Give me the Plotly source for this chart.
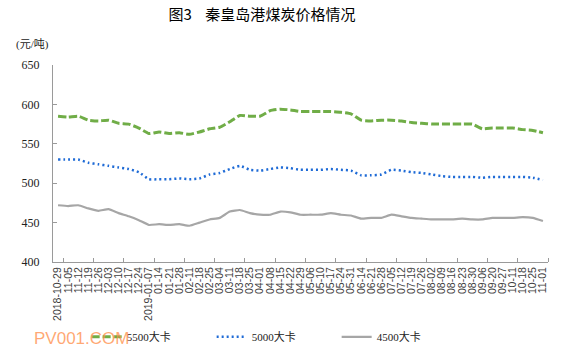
import plotly.graph_objects as go

dates = ["2018-10-29", "11-05", "11-12", "11-19", "11-26", "12-03", "12-10", "12-17", "12-24",
         "2019-01-07", "01-14", "01-21", "01-28", "02-11", "02-18", "02-25", "03-04", "03-11",
         "03-18", "03-25", "04-01", "04-08", "04-15", "04-22", "04-29", "05-06", "05-10",
         "05-17", "05-24", "05-31", "06-14", "06-21", "06-28", "07-05", "07-12", "07-19",
         "07-26", "08-02", "08-09", "08-16", "08-23", "08-30", "09-06", "09-20", "09-27",
         "10-11", "10-18", "10-25", "11-01"]

coal_5500 = [585, 584, 585, 580, 579, 580, 576, 575, 570, 563, 565, 563, 564, 562, 565, 569,
             571, 578, 586, 585, 585, 592, 594, 593, 591, 591, 591, 591, 590, 588, 580, 579,
             580, 580, 579, 577, 576, 575, 575, 575, 575, 575, 569, 570, 570, 570, 568, 567, 564]

coal_5000 = [530, 530, 530, 526, 524, 522, 520, 518, 514, 505, 505, 505, 506, 505, 506, 511,
             513, 518, 522, 517, 516, 518, 520, 519, 517, 517, 517, 518, 517, 516, 510, 510,
             511, 517, 516, 514, 513, 511, 509, 508, 508, 508, 507, 508, 508, 508, 508, 507, 504]

coal_4500 = [472, 471, 472, 468, 465, 467, 462, 458, 453, 447, 448, 447, 448, 446, 450, 454,
             456, 464, 466, 462, 460, 460, 464, 463, 460, 460, 460, 462, 460, 459, 455, 456,
             456, 460, 458, 456, 455, 454, 454, 454, 455, 454, 454, 456, 456, 456, 457, 456, 452]

series_names = ["5500大卡", "5000大卡", "4500大卡"]
x = list(range(len(dates)))

fig = go.Figure()
fig.add_trace(go.Scatter(x=x, y=coal_5500, name=series_names[0], mode="lines",
                         line=dict(color="#70AD47", width=3, dash="8px,3px", shape="spline", smoothing=0.4)))
fig.add_trace(go.Scatter(x=x, y=coal_5000, name=series_names[1], mode="lines",
                         line=dict(color="#1F6BD6", width=2.5, dash="2px,3px", shape="spline", smoothing=0.4)))
fig.add_trace(go.Scatter(x=x, y=coal_4500, name=series_names[2], mode="lines",
                         line=dict(color="#A6A6A6", width=2.2, shape="spline", smoothing=0.4)))

fig.update_layout(
    width=583, height=363,
    margin=dict(l=52.7, r=35.3, t=65, b=101, pad=0),
    paper_bgcolor="white", plot_bgcolor="white",
    showlegend=True,
    title=dict(text="图3    秦皇岛港煤炭价格情况", x=262/583, xref="container", xanchor="center",
               y=1-15/363, yref="container", yanchor="middle",
               font=dict(size=15, color="#000000", family="Noto Sans CJK SC")),
    legend=dict(orientation="h", x=0.068, xanchor="left", y=-0.38, yanchor="middle",
                entrywidth=80, entrywidthmode="pixels",
                font=dict(size=11, color="#222222", family="Liberation Serif, Noto Sans CJK SC"),
                bgcolor="rgba(0,0,0,0)"),
    xaxis=dict(range=[-0.5, len(dates) - 0.5], tickmode="array", tickvals=x, ticktext=dates,
               tickangle=-90, ticks="", showgrid=False, zeroline=False,
               showline=True, linecolor="#9A9A9A", linewidth=1,
               tickfont=dict(size=10.5, color="#404040", family="Liberation Sans"),
               minor=dict(ticks="inside", tick0=0.5, dtick=3, ticklen=4, tickcolor="#9A9A9A", showgrid=False)),
    yaxis=dict(range=[400, 650], tickmode="array", tickvals=[400, 450, 500, 550, 600, 650],
               ticks="inside", ticklen=4, tickcolor="#9A9A9A", showgrid=False, zeroline=False,
               showline=True, linecolor="#9A9A9A", linewidth=1, ticklabelstandoff=10,
               tickfont=dict(size=12, color="#222222", family="Liberation Serif")),
    annotations=[
        dict(text="(元/吨)", xref="paper", yref="paper", x=(14 - 52.7) / 495, y=1 + (65 - 45) / 197,
             xanchor="left", yanchor="middle", showarrow=False,
             font=dict(size=11, color="#222222", family="Liberation Serif, Noto Sans CJK SC")),
        dict(text="PV001.COM", xref="paper", yref="paper", x=(32 - 52.7) / 495, y=-(338 - 262) / 197,
             xanchor="left", yanchor="middle", showarrow=False,
             font=dict(size=17, color="rgba(255,140,70,0.75)", family="Liberation Sans")),
    ],
)

fig.write_html("out.html", config={"displayModeBar": False},
               post_script="document.body.style.margin='0px';")
